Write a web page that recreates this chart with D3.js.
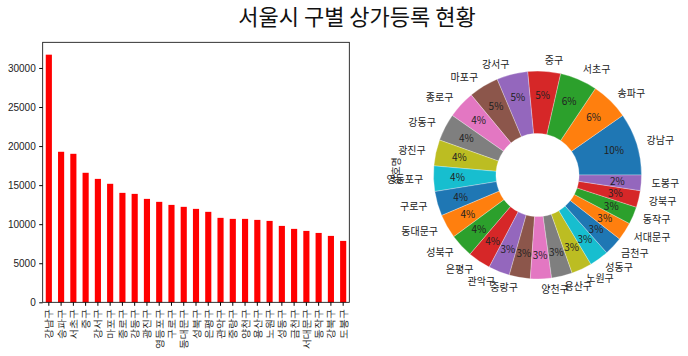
<!DOCTYPE html>
<html>
<head>
<meta charset="utf-8">
<script src="https://cdn.jsdelivr.net/npm/d3@7"></script>
<style>
  body { margin: 0; background: #fff; }
  svg { font-family: "Noto Sans CJK KR", "Noto Sans", sans-serif; }
</style>
</head>
<body>
<svg width="688" height="356"></svg>
<script>
// 구별 상가 수 (내림차순)
const districts = ["강남구", "송파구", "서초구", "중구", "강서구", "마포구", "종로구", "강동구", "광진구", "영등포구",
  "구로구", "동대문구", "성북구", "은평구", "관악구", "중랑구", "양천구", "용산구", "노원구", "성동구",
  "금천구", "서대문구", "동작구", "강북구", "도봉구"];
const counts = [31700, 19270, 19010, 16580, 15800, 15170, 14010, 13880, 13240, 12860,
  12470, 12220, 11960, 11580, 10810, 10680, 10680, 10550, 10420, 9780,
  9400, 9140, 8880, 8500, 7860];
const yTicks = [0, 5000, 10000, 15000, 20000, 25000, 30000];
const tab10 = ["#1f77b4", "#ff7f0e", "#2ca02c", "#d62728", "#9467bd", "#8c564b", "#e377c2", "#7f7f7f", "#bcbd22", "#17becf"];

const svg = d3.select("svg");

// 제목
svg.append("text")
  .attr("x", 357).attr("y", 25)
  .attr("text-anchor", "middle")
  .attr("font-size", 22)
  .attr("fill", "#111")
  .text("서울시 구별 상가등록 현황");

// ---- 막대 그래프 ----
const pLeft = 42.7, pRight = 349.3, pTop = 42.3, pBottom = 302.3;

const x = d3.scaleBand()
  .domain(districts)
  .range([pLeft, pRight])
  .padding(0.5)
  .paddingOuter(0.25);

const y = d3.scaleLinear()
  .domain([0, d3.max(counts) * 1.05])
  .range([pBottom, pTop]);

svg.selectAll("rect.bar")
  .data(counts)
  .enter()
  .append("rect")
  .attr("class", "bar")
  .attr("x", (d, i) => x(districts[i]))
  .attr("y", d => y(d))
  .attr("width", x.bandwidth())
  .attr("height", d => pBottom - y(d))
  .attr("fill", "red");

const yAxis = svg.append("g")
  .attr("transform", "translate(" + pLeft + ",0)")
  .call(d3.axisLeft(y).tickValues(yTicks).tickSize(3.5).tickPadding(3.5).tickFormat(d3.format("d")));
yAxis.select(".domain").remove();
yAxis.selectAll("text").attr("font-size", 10).attr("fill", "#222");

const xAxis = svg.append("g")
  .attr("transform", "translate(0," + pBottom + ")")
  .call(d3.axisBottom(x).tickSize(3.5).tickPadding(3.5));
xAxis.select(".domain").remove();
xAxis.selectAll("text")
  .attr("font-size", 10)
  .attr("fill", "#222")
  .attr("text-anchor", "end")
  .attr("dy", "0.35em")
  .attr("transform", "translate(0,7) rotate(-90)")
  .attr("x", 0).attr("y", 0);

// 테두리
svg.append("rect")
  .attr("x", pLeft).attr("y", pTop)
  .attr("width", pRight - pLeft).attr("height", pBottom - pTop)
  .attr("fill", "none").attr("stroke", "#000").attr("stroke-width", 0.8);

// ---- 도넛 차트 ----
const cx = 537.5, cy = 175, R = 104;
const total = d3.sum(counts);

const pie = d3.pie()
  .sort(null)
  .startAngle(Math.PI / 2)
  .endAngle(Math.PI / 2 - 2 * Math.PI);

const arcs = pie(counts);
const arc = d3.arc().innerRadius(R * 0.4).outerRadius(R);

const g = svg.append("g").attr("transform", "translate(" + cx + "," + cy + ")");

g.selectAll("path")
  .data(arcs)
  .enter()
  .append("path")
  .attr("d", arc)
  .attr("fill", (d, i) => tab10[i % 10])
  .attr("stroke", "#fff")
  .attr("stroke-width", 0.3);

function pos(d, r) {
  const m = (d.startAngle + d.endAngle) / 2;
  return [r * Math.sin(m), -r * Math.cos(m)];
}

g.selectAll("text.pct")
  .data(arcs)
  .enter()
  .append("text")
  .attr("class", "pct")
  .attr("x", d => pos(d, R * 0.77)[0])
  .attr("y", d => pos(d, R * 0.77)[1])
  .attr("dy", "0.35em")
  .attr("text-anchor", "middle")
  .attr("font-size", 10)
  .attr("fill", "#222")
  .text(d => Math.round(d.value / total * 100) + "%");

g.selectAll("text.lbl")
  .data(arcs)
  .enter()
  .append("text")
  .attr("class", "lbl")
  .attr("x", d => pos(d, R * 1.1)[0])
  .attr("y", d => pos(d, R * 1.1)[1])
  .attr("dy", "0.35em")
  .attr("text-anchor", d => pos(d, 1)[0] > 0 ? "start" : "end")
  .attr("font-size", 10)
  .attr("fill", "#222")
  .text((d, i) => districts[i]);

// y 라벨
svg.append("text")
  .attr("transform", "translate(400,171) rotate(-90)")
  .attr("text-anchor", "middle")
  .attr("font-size", 10)
  .attr("fill", "#222")
  .text("상호명");
</script>
</body>
</html>
